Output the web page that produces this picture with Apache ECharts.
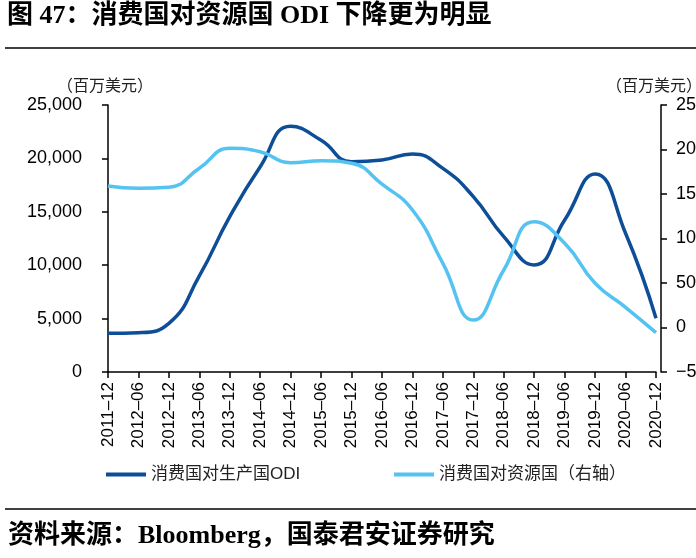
<!DOCTYPE html>
<html>
<head>
<meta charset="utf-8">
<script src="https://cdn.jsdelivr.net/npm/echarts@6/dist/echarts.min.js"></script>
<style>
html,body{margin:0;padding:0;background:#fff;}
#main{width:696px;height:558px;}
</style>
</head>
<body>
<div id="main"></div>
<script>
var categories = ['2011-12','2012-06','2012-12','2013-06','2013-12','2014-06','2014-12','2015-06','2015-12','2016-06','2016-12','2017-06','2017-12','2018-06','2018-12','2019-06','2019-12','2020-06','2020-12'];
var producerODI = [3620, 3680, 4560, 9000, 14540, 19220, 23000, 21700, 19690, 19850, 20410, 19070, 16420, 12670, 10020, 14230, 18540, 12990, 5030];
var resourceODI = [1590, 1564, 1575, 1789, 2013, 1975, 1852, 1874, 1845, 1610, 1320, 721, 84, 646, 1189, 946, 497, 227, -58];
var leftTicks = [0, 5000, 10000, 15000, 20000, 25000];
var rightTicks = [-500, 0, 500, 1000, 1500, 2000, 2500];
var seriesNames = ['消费国对生产国ODI', '消费国对资源国（右轴）'];
var titleText = '图 47：消费国对资源国 ODI 下降更为明显';
var sourceText = '资料来源：Bloomberg，国泰君安证券研究';
var unitText = '（百万美元）';

var darkBlue = '#0D4E97';
var lightBlue = '#55C3F1';
var sans = "'Liberation Sans', Arial, 'Noto Sans CJK SC', sans-serif";
var serifBold = "'Liberation Serif', 'Noto Sans CJK SC', serif";

var chart = echarts.init(document.getElementById('main'));
var option = {
  animation: false,
  backgroundColor: '#fff',
  grid: { left: 108, right: 40, top: 105, bottom: 558 - 372, outerBoundsMode: 'none', containLabel: false },
  legend: [
    { data: [seriesNames[0]], left: 101, top: 461, itemWidth: 40, itemHeight: 4, itemGap: 5,
      icon: 'rect', textStyle: { fontSize: 17, color: '#222', fontFamily: sans } },
    { data: [seriesNames[1]], left: 389, top: 461, itemWidth: 40, itemHeight: 4, itemGap: 5,
      icon: 'rect', textStyle: { fontSize: 17, color: '#222', fontFamily: sans } }
  ],
  xAxis: {
    type: 'category',
    data: categories,
    boundaryGap: false,
    axisLine: { lineStyle: { color: '#000', width: 1.5 } },
    axisTick: { alignWithLabel: true, length: 6, lineStyle: { color: '#000', width: 1.5 } },
    axisLabel: { rotate: 90, interval: 0, fontSize: 17, color: '#000', fontFamily: sans, margin: 10,
      formatter: function (v) { return v.replace('-', '–'); } }
  },
  yAxis: [
    {
      type: 'value', min: leftTicks[0], max: leftTicks[leftTicks.length - 1], interval: 5000,
      axisLine: { show: true, lineStyle: { color: '#000', width: 1.5 } },
      axisTick: { show: true, length: 6, lineStyle: { color: '#000', width: 1.5 } },
      splitLine: { show: false },
      axisLabel: { fontSize: 18, color: '#000', fontFamily: sans, margin: 26,
        formatter: function (v) { return v.toLocaleString('en-US'); } }
    },
    {
      type: 'value', position: 'right', offset: 5,
      min: rightTicks[0], max: rightTicks[rightTicks.length - 1], interval: 500,
      axisLine: { show: true, lineStyle: { color: '#000', width: 1.5 } },
      axisTick: { show: true, length: 6, lineStyle: { color: '#000', width: 1.5 } },
      splitLine: { show: false },
      axisLabel: { fontSize: 18, color: '#000', fontFamily: sans, margin: 15,
        formatter: function (v) { return v < 0 ? '−' + Math.abs(v) : String(v); } }
    }
  ],
  series: [
    { name: seriesNames[0], type: 'line', yAxisIndex: 0, data: producerODI, smooth: 0.5,
      showSymbol: false, lineStyle: { color: darkBlue, width: 3.5 }, itemStyle: { color: darkBlue } },
    { name: seriesNames[1], type: 'line', yAxisIndex: 1, data: resourceODI, smooth: 0.5,
      showSymbol: false, lineStyle: { color: lightBlue, width: 3.5 }, itemStyle: { color: lightBlue } }
  ],
  graphic: [
    { type: 'text', left: 7, top: 3, style: { text: titleText, font: 'bold 26px ' + serifBold, fill: '#000' } },
    { type: 'line', shape: { x1: 5, y1: 48, x2: 696, y2: 48 }, style: { stroke: '#000', lineWidth: 1.5 } },
    { type: 'line', shape: { x1: 5, y1: 509, x2: 696, y2: 509 }, style: { stroke: '#000', lineWidth: 1.5 } },
    { type: 'text', left: 8, top: 523, style: { text: sourceText, font: 'bold 26px ' + serifBold, fill: '#000' } },
    { type: 'text', left: 57, top: 79, style: { text: unitText, font: '16px ' + sans, fill: '#222' } },
    { type: 'text', left: 606, top: 79, style: { text: unitText, font: '16px ' + sans, fill: '#222' } }
  ]
};
chart.setOption(option);
</script>
</body>
</html>
